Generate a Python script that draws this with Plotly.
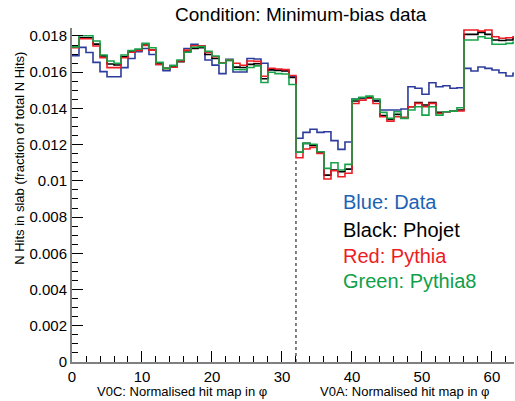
import plotly.graph_objects as go

bins = list(range(64))

data_blue = [0.01691, 0.01737, 0.01709, 0.01654, 0.01603, 0.01575, 0.01575, 0.01625,
             0.01676, 0.01713, 0.01731, 0.01698, 0.01643, 0.01608, 0.01636, 0.01662,
             0.01731, 0.01754, 0.01746, 0.01667, 0.01639, 0.01592, 0.01671, 0.01601,
             0.01601, 0.01676, 0.01673, 0.01649, 0.01612, 0.01612, 0.01609, 0.01574,
             0.01235, 0.01268, 0.01285, 0.01268, 0.01271, 0.01222, 0.01174, 0.01215,
             0.01452, 0.01456, 0.01459, 0.01443, 0.01391, 0.01391, 0.01391, 0.01397,
             0.01520, 0.01511, 0.01478, 0.01542, 0.01520, 0.01525, 0.01511, 0.01514,
             0.01621, 0.01607, 0.01629, 0.01621, 0.01612, 0.01597, 0.01579, 0.01594]

phojet_black = [0.01738, 0.01790, 0.01790, 0.01755, 0.01690, 0.01645, 0.01640, 0.01685,
                0.01713, 0.01722, 0.01750, 0.01722, 0.01649, 0.01621, 0.01630, 0.01658,
                0.01717, 0.01731, 0.01735, 0.01698, 0.01676, 0.01649, 0.01665, 0.01628,
                0.01626, 0.01643, 0.01647, 0.01564, 0.01614, 0.01610, 0.01607, 0.01571,
                0.01158, 0.01207, 0.01196, 0.01158, 0.01032, 0.01060, 0.01050, 0.01065,
                0.01441, 0.01459, 0.01459, 0.01441, 0.01360, 0.01341, 0.01367, 0.01349,
                0.01409, 0.01432, 0.01419, 0.01432, 0.01378, 0.01382, 0.01385, 0.01391,
                0.01809, 0.01809, 0.01820, 0.01809, 0.01778, 0.01775, 0.01778, 0.01787]

pythia_red = [0.01735, 0.01785, 0.01785, 0.01745, 0.01680, 0.01625, 0.01625, 0.01680,
              0.01710, 0.01720, 0.01748, 0.01722, 0.01643, 0.01621, 0.01627, 0.01662,
              0.01722, 0.01746, 0.01746, 0.01709, 0.01685, 0.01650, 0.01668, 0.01649,
              0.01638, 0.01662, 0.01660, 0.01578, 0.01622, 0.01618, 0.01614, 0.01582,
              0.01128, 0.01176, 0.01185, 0.01152, 0.01010, 0.01056, 0.01023, 0.01042,
              0.01427, 0.01446, 0.01456, 0.01427, 0.01354, 0.01330, 0.01354, 0.01349,
              0.01409, 0.01428, 0.01409, 0.01428, 0.01373, 0.01382, 0.01385, 0.01386,
              0.01833, 0.01833, 0.01827, 0.01833, 0.01796, 0.01787, 0.01790, 0.01796]

pythia8_green = [0.01740, 0.01801, 0.01801, 0.01772, 0.01695, 0.01662, 0.01649, 0.01695,
                 0.01719, 0.01728, 0.01759, 0.01735, 0.01654, 0.01621, 0.01636, 0.01667,
                 0.01710, 0.01738, 0.01741, 0.01715, 0.01689, 0.01649, 0.01667, 0.01615,
                 0.01614, 0.01626, 0.01635, 0.01543, 0.01600, 0.01592, 0.01590, 0.01532,
                 0.01158, 0.01207, 0.01202, 0.01161, 0.01069, 0.01100, 0.01060, 0.01091,
                 0.01450, 0.01461, 0.01468, 0.01452, 0.01378, 0.01345, 0.01382, 0.01345,
                 0.01391, 0.01409, 0.01363, 0.01409, 0.01363, 0.01382, 0.01385, 0.01404,
                 0.01778, 0.01778, 0.01796, 0.01787, 0.01754, 0.01754, 0.01759, 0.01765]

ytick_vals = [0, 0.002, 0.004, 0.006, 0.008, 0.01, 0.012, 0.014, 0.016, 0.018]
ytick_text = ["0", "0.002", "0.004", "0.006", "0.008", "0.01", "0.012", "0.014", "0.016", "0.018"]
xtick_vals = [0, 10, 20, 30, 40, 50, 60]

series = [
    ("Data", data_blue, "#2c3c9c"),
    ("Phojet", phojet_black, "#000000"),
    ("Pythia", pythia_red, "#ee1c24"),
    ("Pythia8", pythia8_green, "#16a34a"),
]

fig = go.Figure()

# dotted separator at the V0C / V0A boundary
sep_x = 32
sep_top = min(s[1][sep_x] for s in series)
fig.add_trace(go.Scatter(x=[sep_x, sep_x], y=[0, sep_top], mode="lines",
                         line=dict(color="#000000", width=1, dash="dot"),
                         hoverinfo="skip", showlegend=False))

for name, vals, col in series:
    xs = bins + [bins[-1] + 1]
    ys = vals + [vals[-1]]
    fig.add_trace(go.Scatter(x=xs, y=ys, mode="lines", name=name,
                             line=dict(color=col, width=1.6, shape="hv"),
                             showlegend=False))

font_family = "Liberation Sans, Arial, sans-serif"

fig.update_layout(
    width=515, height=401,
    margin=dict(l=72, r=1, t=28, b=39),
    paper_bgcolor="white", plot_bgcolor="white",
    font=dict(family=font_family, color="#000000"),
    title=dict(text="Condition: Minimum-bias data", x=0.584, xanchor="center",
               y=0.965, yanchor="middle", xref="container", yref="container",
               font=dict(size=19, family=font_family, color="#000000")),
    xaxis=dict(range=[0, 63.15], tickvals=xtick_vals, ticks="inside", ticklen=11,
               tickcolor="#000000", tickwidth=1, showgrid=False, zeroline=False,
               showline=True, linecolor="#808080", linewidth=2,
               tickfont=dict(size=15, family=font_family), automargin=False,
               minor=dict(dtick=2, ticks="inside", ticklen=6, tickcolor="#000000")),
    yaxis=dict(range=[0, 0.01844], tickvals=ytick_vals, ticktext=ytick_text,
               ticks="inside", ticklen=11, tickcolor="#000000", tickwidth=1,
               showgrid=False, zeroline=False, showline=True, linecolor="#808080",
               linewidth=2, tickfont=dict(size=15, family=font_family), automargin=False,
               minor=dict(dtick=0.0005, ticks="inside", ticklen=6, tickcolor="#000000")),
)

annotations = [
    dict(text="N Hits in slab (fraction of total N Hits)", xref="paper", yref="paper",
         x=-0.118, y=0.611, textangle=-90, showarrow=False,
         font=dict(size=13, family=font_family, color="#000000"),
         xanchor="center", yanchor="middle"),
    dict(text="V0C: Normalised hit map in φ", xref="paper", yref="paper",
         x=(182 - 72) / 442, y=-29 / 334, showarrow=False,
         font=dict(size=13, family=font_family, color="#000000"),
         xanchor="center", yanchor="middle"),
    dict(text="V0A: Normalised hit map in φ", xref="paper", yref="paper",
         x=(405 - 72) / 442, y=-29 / 334, showarrow=False,
         font=dict(size=13, family=font_family, color="#000000"),
         xanchor="center", yanchor="middle"),
]

legend_items = [
    ("Blue: Data", "#1b63b3", 202),
    ("Black: Phojet", "#000000", 230),
    ("Red: Pythia", "#ee1c24", 256),
    ("Green: Pythia8", "#0ea04a", 281),
]
for txt, col, ypx in legend_items:
    annotations.append(dict(text=txt, xref="paper", yref="paper",
                            x=(341 - 72) / 442, y=(362 - ypx) / 334,
                            xanchor="left", yanchor="middle", showarrow=False,
                            font=dict(size=20, family=font_family, color=col)))

fig.update_layout(annotations=annotations)

fig.write_html("out.html", config={"displayModeBar": False},
               post_script="document.body.style.margin='0';document.body.style.padding='0';")
